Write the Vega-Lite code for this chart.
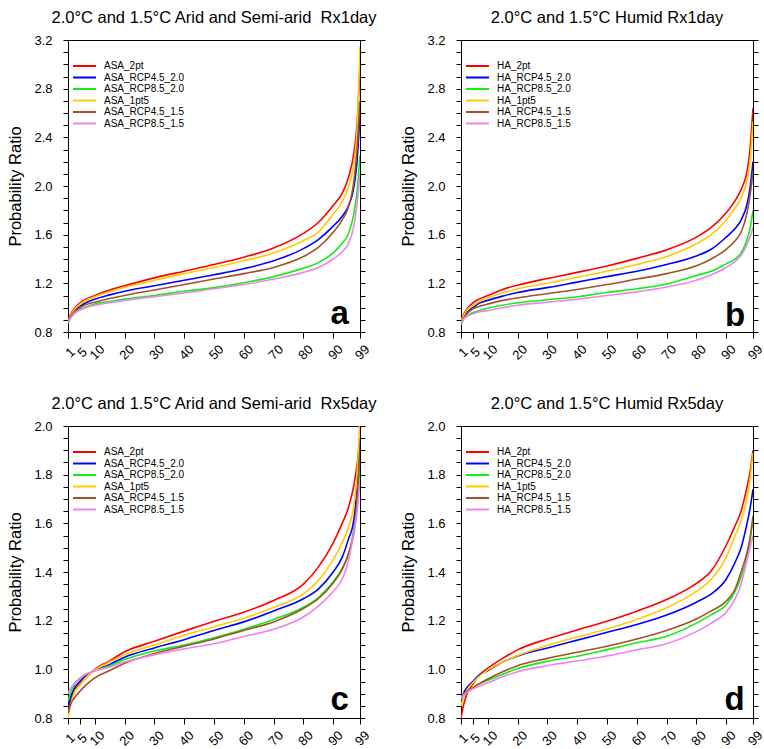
{
"$schema": "https://vega.github.io/schema/vega-lite/v6.json",
"background": "white",
"padding": {"left": 7, "top": 9, "right": 12, "bottom": 12},
"bounds": "flush",
"columns": 2,
"spacing": {"row": 94, "column": 101},
"resolve": {"scale": {"color": "independent"}, "legend": {"color": "independent"}},
"config": {
  "font": "Liberation Sans",
  "view": {"stroke": "black", "strokeWidth": 1},
  "axis": {"grid": false, "domainColor": "black", "tickColor": "black", "labelColor": "black", "titleColor": "black", "labelFont": "Liberation Sans", "titleFont": "Liberation Sans", "labelFontSize": 13, "titleFontSize": 16.5, "titleFontWeight": "normal", "tickWidth": 1, "domainWidth": 1},
  "title": {"font": "Liberation Sans", "fontSize": 16.5, "fontWeight": "normal", "color": "black", "frame": "group", "anchor": "middle", "offset": 8, "baseline": "alphabetic"}
},
"datasets": {
"a": [
{"s":"ASA_2pt","x":1,"y":0.90},{"s":"ASA_2pt","x":2,"y":0.95},{"s":"ASA_2pt","x":3,"y":0.99},{"s":"ASA_2pt","x":5,"y":1.04},{"s":"ASA_2pt","x":7,"y":1.07},{"s":"ASA_2pt","x":10,"y":1.10},{"s":"ASA_2pt","x":15,"y":1.145},{"s":"ASA_2pt","x":20,"y":1.18},{"s":"ASA_2pt","x":30,"y":1.245},{"s":"ASA_2pt","x":40,"y":1.30},{"s":"ASA_2pt","x":50,"y":1.355},{"s":"ASA_2pt","x":60,"y":1.415},{"s":"ASA_2pt","x":70,"y":1.49},{"s":"ASA_2pt","x":80,"y":1.61},{"s":"ASA_2pt","x":85,"y":1.70},{"s":"ASA_2pt","x":90,"y":1.84},{"s":"ASA_2pt","x":93,"y":1.94},{"s":"ASA_2pt","x":95,"y":2.06},{"s":"ASA_2pt","x":97,"y":2.28},{"s":"ASA_2pt","x":98,"y":2.5},{"s":"ASA_2pt","x":99,"y":3.0},
{"s":"ASA_RCP4.5_2.0","x":1,"y":0.88},{"s":"ASA_RCP4.5_2.0","x":2,"y":0.93},{"s":"ASA_RCP4.5_2.0","x":3,"y":0.97},{"s":"ASA_RCP4.5_2.0","x":5,"y":1.01},{"s":"ASA_RCP4.5_2.0","x":7,"y":1.04},{"s":"ASA_RCP4.5_2.0","x":10,"y":1.07},{"s":"ASA_RCP4.5_2.0","x":15,"y":1.105},{"s":"ASA_RCP4.5_2.0","x":20,"y":1.135},{"s":"ASA_RCP4.5_2.0","x":30,"y":1.18},{"s":"ASA_RCP4.5_2.0","x":40,"y":1.225},{"s":"ASA_RCP4.5_2.0","x":50,"y":1.27},{"s":"ASA_RCP4.5_2.0","x":60,"y":1.32},{"s":"ASA_RCP4.5_2.0","x":70,"y":1.385},{"s":"ASA_RCP4.5_2.0","x":80,"y":1.485},{"s":"ASA_RCP4.5_2.0","x":85,"y":1.56},{"s":"ASA_RCP4.5_2.0","x":90,"y":1.67},{"s":"ASA_RCP4.5_2.0","x":93,"y":1.75},{"s":"ASA_RCP4.5_2.0","x":95,"y":1.83},{"s":"ASA_RCP4.5_2.0","x":97,"y":2.0},{"s":"ASA_RCP4.5_2.0","x":98,"y":2.2},{"s":"ASA_RCP4.5_2.0","x":99,"y":2.6},
{"s":"ASA_RCP8.5_2.0","x":1,"y":0.87},{"s":"ASA_RCP8.5_2.0","x":2,"y":0.92},{"s":"ASA_RCP8.5_2.0","x":3,"y":0.95},{"s":"ASA_RCP8.5_2.0","x":5,"y":0.985},{"s":"ASA_RCP8.5_2.0","x":7,"y":1.005},{"s":"ASA_RCP8.5_2.0","x":10,"y":1.03},{"s":"ASA_RCP8.5_2.0","x":15,"y":1.05},{"s":"ASA_RCP8.5_2.0","x":20,"y":1.07},{"s":"ASA_RCP8.5_2.0","x":30,"y":1.10},{"s":"ASA_RCP8.5_2.0","x":40,"y":1.135},{"s":"ASA_RCP8.5_2.0","x":50,"y":1.165},{"s":"ASA_RCP8.5_2.0","x":60,"y":1.205},{"s":"ASA_RCP8.5_2.0","x":70,"y":1.255},{"s":"ASA_RCP8.5_2.0","x":80,"y":1.325},{"s":"ASA_RCP8.5_2.0","x":85,"y":1.37},{"s":"ASA_RCP8.5_2.0","x":90,"y":1.45},{"s":"ASA_RCP8.5_2.0","x":93,"y":1.53},{"s":"ASA_RCP8.5_2.0","x":95,"y":1.60},{"s":"ASA_RCP8.5_2.0","x":97,"y":1.78},{"s":"ASA_RCP8.5_2.0","x":98,"y":1.95},{"s":"ASA_RCP8.5_2.0","x":99,"y":2.25},
{"s":"ASA_1pt5","x":1,"y":0.89},{"s":"ASA_1pt5","x":2,"y":0.94},{"s":"ASA_1pt5","x":3,"y":0.98},{"s":"ASA_1pt5","x":5,"y":1.03},{"s":"ASA_1pt5","x":7,"y":1.06},{"s":"ASA_1pt5","x":10,"y":1.09},{"s":"ASA_1pt5","x":15,"y":1.13},{"s":"ASA_1pt5","x":20,"y":1.165},{"s":"ASA_1pt5","x":30,"y":1.225},{"s":"ASA_1pt5","x":40,"y":1.28},{"s":"ASA_1pt5","x":50,"y":1.33},{"s":"ASA_1pt5","x":60,"y":1.385},{"s":"ASA_1pt5","x":70,"y":1.45},{"s":"ASA_1pt5","x":80,"y":1.55},{"s":"ASA_1pt5","x":85,"y":1.62},{"s":"ASA_1pt5","x":90,"y":1.77},{"s":"ASA_1pt5","x":93,"y":1.87},{"s":"ASA_1pt5","x":95,"y":1.98},{"s":"ASA_1pt5","x":97,"y":2.2},{"s":"ASA_1pt5","x":98,"y":2.45},{"s":"ASA_1pt5","x":99,"y":3.15},
{"s":"ASA_RCP4.5_1.5","x":1,"y":0.89},{"s":"ASA_RCP4.5_1.5","x":2,"y":0.93},{"s":"ASA_RCP4.5_1.5","x":3,"y":0.96},{"s":"ASA_RCP4.5_1.5","x":5,"y":1.0},{"s":"ASA_RCP4.5_1.5","x":7,"y":1.025},{"s":"ASA_RCP4.5_1.5","x":10,"y":1.045},{"s":"ASA_RCP4.5_1.5","x":15,"y":1.075},{"s":"ASA_RCP4.5_1.5","x":20,"y":1.10},{"s":"ASA_RCP4.5_1.5","x":30,"y":1.145},{"s":"ASA_RCP4.5_1.5","x":40,"y":1.19},{"s":"ASA_RCP4.5_1.5","x":50,"y":1.235},{"s":"ASA_RCP4.5_1.5","x":60,"y":1.28},{"s":"ASA_RCP4.5_1.5","x":70,"y":1.33},{"s":"ASA_RCP4.5_1.5","x":80,"y":1.42},{"s":"ASA_RCP4.5_1.5","x":85,"y":1.495},{"s":"ASA_RCP4.5_1.5","x":90,"y":1.62},{"s":"ASA_RCP4.5_1.5","x":93,"y":1.72},{"s":"ASA_RCP4.5_1.5","x":95,"y":1.82},{"s":"ASA_RCP4.5_1.5","x":97,"y":2.05},{"s":"ASA_RCP4.5_1.5","x":98,"y":2.3},{"s":"ASA_RCP4.5_1.5","x":99,"y":2.7},
{"s":"ASA_RCP8.5_1.5","x":1,"y":0.88},{"s":"ASA_RCP8.5_1.5","x":2,"y":0.92},{"s":"ASA_RCP8.5_1.5","x":3,"y":0.95},{"s":"ASA_RCP8.5_1.5","x":5,"y":0.98},{"s":"ASA_RCP8.5_1.5","x":7,"y":1.0},{"s":"ASA_RCP8.5_1.5","x":10,"y":1.02},{"s":"ASA_RCP8.5_1.5","x":15,"y":1.04},{"s":"ASA_RCP8.5_1.5","x":20,"y":1.06},{"s":"ASA_RCP8.5_1.5","x":30,"y":1.09},{"s":"ASA_RCP8.5_1.5","x":40,"y":1.12},{"s":"ASA_RCP8.5_1.5","x":50,"y":1.155},{"s":"ASA_RCP8.5_1.5","x":60,"y":1.19},{"s":"ASA_RCP8.5_1.5","x":70,"y":1.235},{"s":"ASA_RCP8.5_1.5","x":80,"y":1.29},{"s":"ASA_RCP8.5_1.5","x":85,"y":1.33},{"s":"ASA_RCP8.5_1.5","x":90,"y":1.40},{"s":"ASA_RCP8.5_1.5","x":93,"y":1.46},{"s":"ASA_RCP8.5_1.5","x":95,"y":1.52},{"s":"ASA_RCP8.5_1.5","x":97,"y":1.68},{"s":"ASA_RCP8.5_1.5","x":98,"y":1.85},{"s":"ASA_RCP8.5_1.5","x":99,"y":2.1}
],
"b": [
{"s":"HA_2pt","x":1,"y":0.90},{"s":"HA_2pt","x":2,"y":0.95},{"s":"HA_2pt","x":3,"y":0.99},{"s":"HA_2pt","x":5,"y":1.04},{"s":"HA_2pt","x":7,"y":1.07},{"s":"HA_2pt","x":10,"y":1.10},{"s":"HA_2pt","x":15,"y":1.15},{"s":"HA_2pt","x":20,"y":1.185},{"s":"HA_2pt","x":30,"y":1.24},{"s":"HA_2pt","x":40,"y":1.29},{"s":"HA_2pt","x":50,"y":1.343},{"s":"HA_2pt","x":60,"y":1.405},{"s":"HA_2pt","x":70,"y":1.475},{"s":"HA_2pt","x":80,"y":1.58},{"s":"HA_2pt","x":85,"y":1.66},{"s":"HA_2pt","x":90,"y":1.78},{"s":"HA_2pt","x":93,"y":1.88},{"s":"HA_2pt","x":95,"y":1.97},{"s":"HA_2pt","x":97,"y":2.12},{"s":"HA_2pt","x":98,"y":2.3},{"s":"HA_2pt","x":99,"y":2.64},
{"s":"HA_RCP4.5_2.0","x":1,"y":0.87},{"s":"HA_RCP4.5_2.0","x":2,"y":0.92},{"s":"HA_RCP4.5_2.0","x":3,"y":0.96},{"s":"HA_RCP4.5_2.0","x":5,"y":1.0},{"s":"HA_RCP4.5_2.0","x":7,"y":1.035},{"s":"HA_RCP4.5_2.0","x":10,"y":1.06},{"s":"HA_RCP4.5_2.0","x":15,"y":1.095},{"s":"HA_RCP4.5_2.0","x":20,"y":1.125},{"s":"HA_RCP4.5_2.0","x":30,"y":1.165},{"s":"HA_RCP4.5_2.0","x":40,"y":1.21},{"s":"HA_RCP4.5_2.0","x":50,"y":1.255},{"s":"HA_RCP4.5_2.0","x":60,"y":1.30},{"s":"HA_RCP4.5_2.0","x":70,"y":1.355},{"s":"HA_RCP4.5_2.0","x":80,"y":1.425},{"s":"HA_RCP4.5_2.0","x":85,"y":1.48},{"s":"HA_RCP4.5_2.0","x":90,"y":1.58},{"s":"HA_RCP4.5_2.0","x":93,"y":1.65},{"s":"HA_RCP4.5_2.0","x":95,"y":1.72},{"s":"HA_RCP4.5_2.0","x":97,"y":1.85},{"s":"HA_RCP4.5_2.0","x":98,"y":1.98},{"s":"HA_RCP4.5_2.0","x":99,"y":2.2},
{"s":"HA_RCP8.5_2.0","x":1,"y":0.86},{"s":"HA_RCP8.5_2.0","x":2,"y":0.91},{"s":"HA_RCP8.5_2.0","x":3,"y":0.93},{"s":"HA_RCP8.5_2.0","x":5,"y":0.96},{"s":"HA_RCP8.5_2.0","x":7,"y":0.975},{"s":"HA_RCP8.5_2.0","x":10,"y":0.995},{"s":"HA_RCP8.5_2.0","x":15,"y":1.02},{"s":"HA_RCP8.5_2.0","x":20,"y":1.04},{"s":"HA_RCP8.5_2.0","x":30,"y":1.065},{"s":"HA_RCP8.5_2.0","x":40,"y":1.09},{"s":"HA_RCP8.5_2.0","x":50,"y":1.125},{"s":"HA_RCP8.5_2.0","x":60,"y":1.155},{"s":"HA_RCP8.5_2.0","x":70,"y":1.195},{"s":"HA_RCP8.5_2.0","x":80,"y":1.265},{"s":"HA_RCP8.5_2.0","x":85,"y":1.30},{"s":"HA_RCP8.5_2.0","x":90,"y":1.36},{"s":"HA_RCP8.5_2.0","x":93,"y":1.40},{"s":"HA_RCP8.5_2.0","x":95,"y":1.45},{"s":"HA_RCP8.5_2.0","x":97,"y":1.56},{"s":"HA_RCP8.5_2.0","x":98,"y":1.65},{"s":"HA_RCP8.5_2.0","x":99,"y":1.80},
{"s":"HA_1pt5","x":1,"y":0.89},{"s":"HA_1pt5","x":2,"y":0.94},{"s":"HA_1pt5","x":3,"y":0.98},{"s":"HA_1pt5","x":5,"y":1.02},{"s":"HA_1pt5","x":7,"y":1.05},{"s":"HA_1pt5","x":10,"y":1.08},{"s":"HA_1pt5","x":15,"y":1.12},{"s":"HA_1pt5","x":20,"y":1.155},{"s":"HA_1pt5","x":30,"y":1.20},{"s":"HA_1pt5","x":40,"y":1.25},{"s":"HA_1pt5","x":50,"y":1.30},{"s":"HA_1pt5","x":60,"y":1.355},{"s":"HA_1pt5","x":70,"y":1.42},{"s":"HA_1pt5","x":80,"y":1.525},{"s":"HA_1pt5","x":85,"y":1.60},{"s":"HA_1pt5","x":90,"y":1.72},{"s":"HA_1pt5","x":93,"y":1.82},{"s":"HA_1pt5","x":95,"y":1.90},{"s":"HA_1pt5","x":97,"y":2.05},{"s":"HA_1pt5","x":98,"y":2.2},{"s":"HA_1pt5","x":99,"y":2.53},
{"s":"HA_RCP4.5_1.5","x":1,"y":0.88},{"s":"HA_RCP4.5_1.5","x":2,"y":0.92},{"s":"HA_RCP4.5_1.5","x":3,"y":0.95},{"s":"HA_RCP4.5_1.5","x":5,"y":0.99},{"s":"HA_RCP4.5_1.5","x":7,"y":1.01},{"s":"HA_RCP4.5_1.5","x":10,"y":1.03},{"s":"HA_RCP4.5_1.5","x":15,"y":1.06},{"s":"HA_RCP4.5_1.5","x":20,"y":1.08},{"s":"HA_RCP4.5_1.5","x":30,"y":1.115},{"s":"HA_RCP4.5_1.5","x":40,"y":1.15},{"s":"HA_RCP4.5_1.5","x":50,"y":1.19},{"s":"HA_RCP4.5_1.5","x":60,"y":1.235},{"s":"HA_RCP4.5_1.5","x":70,"y":1.28},{"s":"HA_RCP4.5_1.5","x":80,"y":1.345},{"s":"HA_RCP4.5_1.5","x":85,"y":1.40},{"s":"HA_RCP4.5_1.5","x":90,"y":1.48},{"s":"HA_RCP4.5_1.5","x":93,"y":1.55},{"s":"HA_RCP4.5_1.5","x":95,"y":1.62},{"s":"HA_RCP4.5_1.5","x":97,"y":1.78},{"s":"HA_RCP4.5_1.5","x":98,"y":1.92},{"s":"HA_RCP4.5_1.5","x":99,"y":2.12},
{"s":"HA_RCP8.5_1.5","x":1,"y":0.87},{"s":"HA_RCP8.5_1.5","x":2,"y":0.91},{"s":"HA_RCP8.5_1.5","x":3,"y":0.93},{"s":"HA_RCP8.5_1.5","x":5,"y":0.95},{"s":"HA_RCP8.5_1.5","x":7,"y":0.965},{"s":"HA_RCP8.5_1.5","x":10,"y":0.975},{"s":"HA_RCP8.5_1.5","x":15,"y":1.0},{"s":"HA_RCP8.5_1.5","x":20,"y":1.02},{"s":"HA_RCP8.5_1.5","x":30,"y":1.045},{"s":"HA_RCP8.5_1.5","x":40,"y":1.07},{"s":"HA_RCP8.5_1.5","x":50,"y":1.10},{"s":"HA_RCP8.5_1.5","x":60,"y":1.13},{"s":"HA_RCP8.5_1.5","x":70,"y":1.17},{"s":"HA_RCP8.5_1.5","x":80,"y":1.225},{"s":"HA_RCP8.5_1.5","x":85,"y":1.27},{"s":"HA_RCP8.5_1.5","x":90,"y":1.33},{"s":"HA_RCP8.5_1.5","x":93,"y":1.38},{"s":"HA_RCP8.5_1.5","x":95,"y":1.43},{"s":"HA_RCP8.5_1.5","x":97,"y":1.52},{"s":"HA_RCP8.5_1.5","x":98,"y":1.58},{"s":"HA_RCP8.5_1.5","x":99,"y":1.66}
],
"c": [
{"s":"ASA_2pt","x":1,"y":0.83},{"s":"ASA_2pt","x":2,"y":0.88},{"s":"ASA_2pt","x":3,"y":0.91},{"s":"ASA_2pt","x":5,"y":0.94},{"s":"ASA_2pt","x":7,"y":0.965},{"s":"ASA_2pt","x":10,"y":1.0},{"s":"ASA_2pt","x":15,"y":1.035},{"s":"ASA_2pt","x":20,"y":1.072},{"s":"ASA_2pt","x":30,"y":1.115},{"s":"ASA_2pt","x":40,"y":1.157},{"s":"ASA_2pt","x":50,"y":1.198},{"s":"ASA_2pt","x":60,"y":1.235},{"s":"ASA_2pt","x":70,"y":1.283},{"s":"ASA_2pt","x":80,"y":1.35},{"s":"ASA_2pt","x":85,"y":1.42},{"s":"ASA_2pt","x":90,"y":1.52},{"s":"ASA_2pt","x":93,"y":1.60},{"s":"ASA_2pt","x":95,"y":1.66},{"s":"ASA_2pt","x":97,"y":1.76},{"s":"ASA_2pt","x":98,"y":1.84},{"s":"ASA_2pt","x":99,"y":1.95},
{"s":"ASA_RCP4.5_2.0","x":1,"y":0.84},{"s":"ASA_RCP4.5_2.0","x":2,"y":0.89},{"s":"ASA_RCP4.5_2.0","x":3,"y":0.92},{"s":"ASA_RCP4.5_2.0","x":5,"y":0.95},{"s":"ASA_RCP4.5_2.0","x":7,"y":0.975},{"s":"ASA_RCP4.5_2.0","x":10,"y":0.995},{"s":"ASA_RCP4.5_2.0","x":15,"y":1.02},{"s":"ASA_RCP4.5_2.0","x":20,"y":1.05},{"s":"ASA_RCP4.5_2.0","x":30,"y":1.088},{"s":"ASA_RCP4.5_2.0","x":40,"y":1.122},{"s":"ASA_RCP4.5_2.0","x":50,"y":1.16},{"s":"ASA_RCP4.5_2.0","x":60,"y":1.195},{"s":"ASA_RCP4.5_2.0","x":70,"y":1.24},{"s":"ASA_RCP4.5_2.0","x":80,"y":1.29},{"s":"ASA_RCP4.5_2.0","x":85,"y":1.33},{"s":"ASA_RCP4.5_2.0","x":90,"y":1.40},{"s":"ASA_RCP4.5_2.0","x":93,"y":1.46},{"s":"ASA_RCP4.5_2.0","x":95,"y":1.53},{"s":"ASA_RCP4.5_2.0","x":97,"y":1.62},{"s":"ASA_RCP4.5_2.0","x":98,"y":1.74},{"s":"ASA_RCP4.5_2.0","x":99,"y":1.9},
{"s":"ASA_RCP8.5_2.0","x":1,"y":0.87},{"s":"ASA_RCP8.5_2.0","x":2,"y":0.91},{"s":"ASA_RCP8.5_2.0","x":3,"y":0.935},{"s":"ASA_RCP8.5_2.0","x":5,"y":0.96},{"s":"ASA_RCP8.5_2.0","x":7,"y":0.98},{"s":"ASA_RCP8.5_2.0","x":10,"y":0.995},{"s":"ASA_RCP8.5_2.0","x":15,"y":1.015},{"s":"ASA_RCP8.5_2.0","x":20,"y":1.04},{"s":"ASA_RCP8.5_2.0","x":30,"y":1.075},{"s":"ASA_RCP8.5_2.0","x":40,"y":1.10},{"s":"ASA_RCP8.5_2.0","x":50,"y":1.13},{"s":"ASA_RCP8.5_2.0","x":60,"y":1.165},{"s":"ASA_RCP8.5_2.0","x":70,"y":1.205},{"s":"ASA_RCP8.5_2.0","x":80,"y":1.255},{"s":"ASA_RCP8.5_2.0","x":85,"y":1.295},{"s":"ASA_RCP8.5_2.0","x":90,"y":1.36},{"s":"ASA_RCP8.5_2.0","x":93,"y":1.415},{"s":"ASA_RCP8.5_2.0","x":95,"y":1.47},{"s":"ASA_RCP8.5_2.0","x":97,"y":1.56},{"s":"ASA_RCP8.5_2.0","x":98,"y":1.66},{"s":"ASA_RCP8.5_2.0","x":99,"y":1.85},
{"s":"ASA_1pt5","x":1,"y":0.80},{"s":"ASA_1pt5","x":2,"y":0.86},{"s":"ASA_1pt5","x":3,"y":0.90},{"s":"ASA_1pt5","x":5,"y":0.935},{"s":"ASA_1pt5","x":7,"y":0.965},{"s":"ASA_1pt5","x":10,"y":0.998},{"s":"ASA_1pt5","x":15,"y":1.03},{"s":"ASA_1pt5","x":20,"y":1.06},{"s":"ASA_1pt5","x":30,"y":1.10},{"s":"ASA_1pt5","x":40,"y":1.14},{"s":"ASA_1pt5","x":50,"y":1.175},{"s":"ASA_1pt5","x":60,"y":1.21},{"s":"ASA_1pt5","x":70,"y":1.255},{"s":"ASA_1pt5","x":80,"y":1.31},{"s":"ASA_1pt5","x":85,"y":1.365},{"s":"ASA_1pt5","x":90,"y":1.45},{"s":"ASA_1pt5","x":93,"y":1.52},{"s":"ASA_1pt5","x":95,"y":1.58},{"s":"ASA_1pt5","x":97,"y":1.68},{"s":"ASA_1pt5","x":98,"y":1.8},{"s":"ASA_1pt5","x":99,"y":2.05},
{"s":"ASA_RCP4.5_1.5","x":1,"y":0.82},{"s":"ASA_RCP4.5_1.5","x":2,"y":0.86},{"s":"ASA_RCP4.5_1.5","x":3,"y":0.88},{"s":"ASA_RCP4.5_1.5","x":5,"y":0.91},{"s":"ASA_RCP4.5_1.5","x":7,"y":0.935},{"s":"ASA_RCP4.5_1.5","x":10,"y":0.965},{"s":"ASA_RCP4.5_1.5","x":15,"y":0.995},{"s":"ASA_RCP4.5_1.5","x":20,"y":1.025},{"s":"ASA_RCP4.5_1.5","x":30,"y":1.065},{"s":"ASA_RCP4.5_1.5","x":40,"y":1.095},{"s":"ASA_RCP4.5_1.5","x":50,"y":1.125},{"s":"ASA_RCP4.5_1.5","x":60,"y":1.16},{"s":"ASA_RCP4.5_1.5","x":70,"y":1.195},{"s":"ASA_RCP4.5_1.5","x":80,"y":1.25},{"s":"ASA_RCP4.5_1.5","x":85,"y":1.29},{"s":"ASA_RCP4.5_1.5","x":90,"y":1.355},{"s":"ASA_RCP4.5_1.5","x":93,"y":1.41},{"s":"ASA_RCP4.5_1.5","x":95,"y":1.47},{"s":"ASA_RCP4.5_1.5","x":97,"y":1.58},{"s":"ASA_RCP4.5_1.5","x":98,"y":1.7},{"s":"ASA_RCP4.5_1.5","x":99,"y":1.92},
{"s":"ASA_RCP8.5_1.5","x":1,"y":0.90},{"s":"ASA_RCP8.5_1.5","x":2,"y":0.925},{"s":"ASA_RCP8.5_1.5","x":3,"y":0.94},{"s":"ASA_RCP8.5_1.5","x":5,"y":0.965},{"s":"ASA_RCP8.5_1.5","x":7,"y":0.98},{"s":"ASA_RCP8.5_1.5","x":10,"y":0.993},{"s":"ASA_RCP8.5_1.5","x":15,"y":1.01},{"s":"ASA_RCP8.5_1.5","x":20,"y":1.03},{"s":"ASA_RCP8.5_1.5","x":30,"y":1.06},{"s":"ASA_RCP8.5_1.5","x":40,"y":1.084},{"s":"ASA_RCP8.5_1.5","x":50,"y":1.105},{"s":"ASA_RCP8.5_1.5","x":60,"y":1.135},{"s":"ASA_RCP8.5_1.5","x":70,"y":1.165},{"s":"ASA_RCP8.5_1.5","x":80,"y":1.215},{"s":"ASA_RCP8.5_1.5","x":85,"y":1.26},{"s":"ASA_RCP8.5_1.5","x":90,"y":1.32},{"s":"ASA_RCP8.5_1.5","x":93,"y":1.37},{"s":"ASA_RCP8.5_1.5","x":95,"y":1.44},{"s":"ASA_RCP8.5_1.5","x":97,"y":1.57},{"s":"ASA_RCP8.5_1.5","x":98,"y":1.65},{"s":"ASA_RCP8.5_1.5","x":99,"y":1.78}
],
"d": [
{"s":"HA_2pt","x":1,"y":0.80},{"s":"HA_2pt","x":2,"y":0.86},{"s":"HA_2pt","x":3,"y":0.90},{"s":"HA_2pt","x":5,"y":0.94},{"s":"HA_2pt","x":7,"y":0.975},{"s":"HA_2pt","x":10,"y":1.005},{"s":"HA_2pt","x":15,"y":1.045},{"s":"HA_2pt","x":20,"y":1.08},{"s":"HA_2pt","x":30,"y":1.125},{"s":"HA_2pt","x":40,"y":1.162},{"s":"HA_2pt","x":50,"y":1.198},{"s":"HA_2pt","x":60,"y":1.239},{"s":"HA_2pt","x":70,"y":1.287},{"s":"HA_2pt","x":80,"y":1.353},{"s":"HA_2pt","x":85,"y":1.405},{"s":"HA_2pt","x":90,"y":1.51},{"s":"HA_2pt","x":93,"y":1.59},{"s":"HA_2pt","x":95,"y":1.65},{"s":"HA_2pt","x":97,"y":1.75},{"s":"HA_2pt","x":98,"y":1.81},{"s":"HA_2pt","x":99,"y":1.90},
{"s":"HA_RCP4.5_2.0","x":1,"y":0.87},{"s":"HA_RCP4.5_2.0","x":2,"y":0.905},{"s":"HA_RCP4.5_2.0","x":3,"y":0.925},{"s":"HA_RCP4.5_2.0","x":5,"y":0.95},{"s":"HA_RCP4.5_2.0","x":7,"y":0.975},{"s":"HA_RCP4.5_2.0","x":10,"y":0.995},{"s":"HA_RCP4.5_2.0","x":15,"y":1.03},{"s":"HA_RCP4.5_2.0","x":20,"y":1.055},{"s":"HA_RCP4.5_2.0","x":30,"y":1.088},{"s":"HA_RCP4.5_2.0","x":40,"y":1.12},{"s":"HA_RCP4.5_2.0","x":50,"y":1.152},{"s":"HA_RCP4.5_2.0","x":60,"y":1.184},{"s":"HA_RCP4.5_2.0","x":70,"y":1.223},{"s":"HA_RCP4.5_2.0","x":80,"y":1.276},{"s":"HA_RCP4.5_2.0","x":85,"y":1.31},{"s":"HA_RCP4.5_2.0","x":90,"y":1.37},{"s":"HA_RCP4.5_2.0","x":93,"y":1.44},{"s":"HA_RCP4.5_2.0","x":95,"y":1.50},{"s":"HA_RCP4.5_2.0","x":97,"y":1.60},{"s":"HA_RCP4.5_2.0","x":98,"y":1.66},{"s":"HA_RCP4.5_2.0","x":99,"y":1.74},
{"s":"HA_RCP8.5_2.0","x":1,"y":0.885},{"s":"HA_RCP8.5_2.0","x":2,"y":0.9},{"s":"HA_RCP8.5_2.0","x":3,"y":0.91},{"s":"HA_RCP8.5_2.0","x":5,"y":0.925},{"s":"HA_RCP8.5_2.0","x":7,"y":0.94},{"s":"HA_RCP8.5_2.0","x":10,"y":0.955},{"s":"HA_RCP8.5_2.0","x":15,"y":0.98},{"s":"HA_RCP8.5_2.0","x":20,"y":1.003},{"s":"HA_RCP8.5_2.0","x":30,"y":1.033},{"s":"HA_RCP8.5_2.0","x":40,"y":1.054},{"s":"HA_RCP8.5_2.0","x":50,"y":1.081},{"s":"HA_RCP8.5_2.0","x":60,"y":1.109},{"s":"HA_RCP8.5_2.0","x":70,"y":1.136},{"s":"HA_RCP8.5_2.0","x":80,"y":1.19},{"s":"HA_RCP8.5_2.0","x":85,"y":1.225},{"s":"HA_RCP8.5_2.0","x":90,"y":1.265},{"s":"HA_RCP8.5_2.0","x":93,"y":1.32},{"s":"HA_RCP8.5_2.0","x":95,"y":1.38},{"s":"HA_RCP8.5_2.0","x":97,"y":1.46},{"s":"HA_RCP8.5_2.0","x":98,"y":1.53},{"s":"HA_RCP8.5_2.0","x":99,"y":1.62},
{"s":"HA_1pt5","x":1,"y":0.85},{"s":"HA_1pt5","x":2,"y":0.89},{"s":"HA_1pt5","x":3,"y":0.915},{"s":"HA_1pt5","x":5,"y":0.945},{"s":"HA_1pt5","x":7,"y":0.97},{"s":"HA_1pt5","x":10,"y":0.998},{"s":"HA_1pt5","x":15,"y":1.03},{"s":"HA_1pt5","x":20,"y":1.057},{"s":"HA_1pt5","x":30,"y":1.098},{"s":"HA_1pt5","x":40,"y":1.133},{"s":"HA_1pt5","x":50,"y":1.166},{"s":"HA_1pt5","x":60,"y":1.205},{"s":"HA_1pt5","x":70,"y":1.253},{"s":"HA_1pt5","x":80,"y":1.32},{"s":"HA_1pt5","x":85,"y":1.37},{"s":"HA_1pt5","x":90,"y":1.46},{"s":"HA_1pt5","x":93,"y":1.55},{"s":"HA_1pt5","x":95,"y":1.61},{"s":"HA_1pt5","x":97,"y":1.71},{"s":"HA_1pt5","x":98,"y":1.78},{"s":"HA_1pt5","x":99,"y":1.89},
{"s":"HA_RCP4.5_1.5","x":1,"y":0.88},{"s":"HA_RCP4.5_1.5","x":2,"y":0.9},{"s":"HA_RCP4.5_1.5","x":3,"y":0.91},{"s":"HA_RCP4.5_1.5","x":5,"y":0.925},{"s":"HA_RCP4.5_1.5","x":7,"y":0.94},{"s":"HA_RCP4.5_1.5","x":10,"y":0.96},{"s":"HA_RCP4.5_1.5","x":15,"y":0.99},{"s":"HA_RCP4.5_1.5","x":20,"y":1.015},{"s":"HA_RCP4.5_1.5","x":30,"y":1.045},{"s":"HA_RCP4.5_1.5","x":40,"y":1.07},{"s":"HA_RCP4.5_1.5","x":50,"y":1.095},{"s":"HA_RCP4.5_1.5","x":60,"y":1.125},{"s":"HA_RCP4.5_1.5","x":70,"y":1.16},{"s":"HA_RCP4.5_1.5","x":80,"y":1.207},{"s":"HA_RCP4.5_1.5","x":85,"y":1.24},{"s":"HA_RCP4.5_1.5","x":90,"y":1.28},{"s":"HA_RCP4.5_1.5","x":93,"y":1.33},{"s":"HA_RCP4.5_1.5","x":95,"y":1.40},{"s":"HA_RCP4.5_1.5","x":97,"y":1.48},{"s":"HA_RCP4.5_1.5","x":98,"y":1.54},{"s":"HA_RCP4.5_1.5","x":99,"y":1.63},
{"s":"HA_RCP8.5_1.5","x":1,"y":0.88},{"s":"HA_RCP8.5_1.5","x":2,"y":0.895},{"s":"HA_RCP8.5_1.5","x":3,"y":0.905},{"s":"HA_RCP8.5_1.5","x":5,"y":0.92},{"s":"HA_RCP8.5_1.5","x":7,"y":0.93},{"s":"HA_RCP8.5_1.5","x":10,"y":0.945},{"s":"HA_RCP8.5_1.5","x":15,"y":0.97},{"s":"HA_RCP8.5_1.5","x":20,"y":0.99},{"s":"HA_RCP8.5_1.5","x":30,"y":1.015},{"s":"HA_RCP8.5_1.5","x":40,"y":1.035},{"s":"HA_RCP8.5_1.5","x":50,"y":1.055},{"s":"HA_RCP8.5_1.5","x":60,"y":1.08},{"s":"HA_RCP8.5_1.5","x":70,"y":1.105},{"s":"HA_RCP8.5_1.5","x":80,"y":1.155},{"s":"HA_RCP8.5_1.5","x":85,"y":1.19},{"s":"HA_RCP8.5_1.5","x":90,"y":1.235},{"s":"HA_RCP8.5_1.5","x":93,"y":1.29},{"s":"HA_RCP8.5_1.5","x":95,"y":1.35},{"s":"HA_RCP8.5_1.5","x":97,"y":1.45},{"s":"HA_RCP8.5_1.5","x":98,"y":1.50},{"s":"HA_RCP8.5_1.5","x":99,"y":1.55}
]
},
"concat": [
{
 "width": 292, "height": 292,
 "title": "2.0°C and 1.5°C Arid and Semi-arid\u00a0 Rx1day",
 "resolve": {"scale": {"y": "shared"}, "axis": {"y": "independent"}},
 "layer": [
  {"data": {"values": [{"t": "a"}]},
   "mark": {"type": "text", "fontSize": 33, "fontWeight": "bold", "align": "right", "baseline": "alphabetic", "color": "black"},
   "encoding": {
    "x": {"datum": 95.3, "type": "quantitative", "scale": {"domain": [1, 99], "nice": false, "zero": false},
      "axis": {"title": null, "orient": "bottom", "ticks": true, "values": [1,5,10,20,30,40,50,60,70,80,90,99], "labelAngle": -45, "labelAlign": "center", "labelBaseline": "middle", "tickSize": 6, "labelPadding": 14, "labelOffset": 2, "labelOverlap": false, "labelFlush": false}},
    "y": {"datum": 0.866, "type": "quantitative", "scale": {"domain": [0.8, 3.2], "nice": false, "zero": false},
      "axis": {"title": "Probability Ratio", "orient": "left", "ticks": true, "values": [0.8,0.9,1.0,1.1,1.2,1.3,1.4,1.5,1.6,1.7,1.8,1.9,2.0,2.1,2.2,2.3,2.4,2.5,2.6,2.7,2.8,2.9,3.0,3.1,3.2], "labelExpr": "round(datum.value*10) % 4 == 0 ? format(datum.value, '.1f') : ''", "tickSize": 5, "labelPadding": 11, "titlePadding": 10}},
    "text": {"field": "t", "type": "nominal"}
   }},
  {"data": {"name": "a"},
   "mark": {"type": "line", "interpolate": "monotone", "strokeWidth": 1.6, "clip": true},
   "encoding": {
    "x": {"field": "x", "type": "quantitative", "scale": {"domain": [1, 99], "nice": false, "zero": false},
      "axis": {"title": null, "orient": "bottom", "ticks": true, "values": [1,5,10,20,30,40,50,60,70,80,90,99], "labelAngle": -45, "labelAlign": "center", "labelBaseline": "middle", "tickSize": 6, "labelPadding": 14, "labelOffset": 2, "labelOverlap": false, "labelFlush": false}},
    "y": {"field": "y", "type": "quantitative", "scale": {"domain": [0.8, 3.2], "nice": false, "zero": false},
      "axis": {"title": null, "orient": "right", "labels": false, "values": [0.8,0.9,1.0,1.1,1.2,1.3,1.4,1.5,1.6,1.7,1.8,1.9,2.0,2.1,2.2,2.3,2.4,2.5,2.6,2.7,2.8,2.9,3.0,3.1,3.2], "tickSize": 5}},
    "color": {"field": "s", "type": "nominal", "sort": null,
      "scale": {"domain": ["ASA_2pt","ASA_RCP4.5_2.0","ASA_RCP8.5_2.0","ASA_1pt5","ASA_RCP4.5_1.5","ASA_RCP8.5_1.5"], "range": ["#FF0000","#0000FF","#11EE11","#FFCC00","#A0522D","#EE82EE"]},
      "legend": {"title": null, "orient": "none", "legendX": 10.5, "legendY": 20, "symbolType": "M-2.3,0H2.3", "symbolSize": 100, "symbolStrokeWidth": 2, "labelFontSize": 10, "labelOffset": 13.5, "rowPadding": 0.5, "labelFont": "Liberation Sans", "labelColor": "black"}}
   }}
 ]
},
{
 "width": 292, "height": 292,
 "title": "2.0°C and 1.5°C Humid Rx1day",
 "resolve": {"scale": {"y": "shared"}, "axis": {"y": "independent"}},
 "layer": [
  {"data": {"values": [{"t": "b"}]},
   "mark": {"type": "text", "fontSize": 33, "fontWeight": "bold", "align": "right", "baseline": "alphabetic", "color": "black"},
   "encoding": {
    "x": {"datum": 96.4, "type": "quantitative", "scale": {"domain": [1, 99], "nice": false, "zero": false},
      "axis": {"title": null, "orient": "bottom", "ticks": true, "values": [1,5,10,20,30,40,50,60,70,80,90,99], "labelAngle": -45, "labelAlign": "center", "labelBaseline": "middle", "tickSize": 6, "labelPadding": 14, "labelOffset": 2, "labelOverlap": false, "labelFlush": false}},
    "y": {"datum": 0.85, "type": "quantitative", "scale": {"domain": [0.8, 3.2], "nice": false, "zero": false},
      "axis": {"title": "Probability Ratio", "orient": "left", "ticks": true, "values": [0.8,0.9,1.0,1.1,1.2,1.3,1.4,1.5,1.6,1.7,1.8,1.9,2.0,2.1,2.2,2.3,2.4,2.5,2.6,2.7,2.8,2.9,3.0,3.1,3.2], "labelExpr": "round(datum.value*10) % 4 == 0 ? format(datum.value, '.1f') : ''", "tickSize": 5, "labelPadding": 11, "titlePadding": 10}},
    "text": {"field": "t", "type": "nominal"}
   }},
  {"data": {"name": "b"},
   "mark": {"type": "line", "interpolate": "monotone", "strokeWidth": 1.6, "clip": true},
   "encoding": {
    "x": {"field": "x", "type": "quantitative", "scale": {"domain": [1, 99], "nice": false, "zero": false},
      "axis": {"title": null, "orient": "bottom", "ticks": true, "values": [1,5,10,20,30,40,50,60,70,80,90,99], "labelAngle": -45, "labelAlign": "center", "labelBaseline": "middle", "tickSize": 6, "labelPadding": 14, "labelOffset": 2, "labelOverlap": false, "labelFlush": false}},
    "y": {"field": "y", "type": "quantitative", "scale": {"domain": [0.8, 3.2], "nice": false, "zero": false},
      "axis": {"title": null, "orient": "right", "labels": false, "values": [0.8,0.9,1.0,1.1,1.2,1.3,1.4,1.5,1.6,1.7,1.8,1.9,2.0,2.1,2.2,2.3,2.4,2.5,2.6,2.7,2.8,2.9,3.0,3.1,3.2], "tickSize": 5}},
    "color": {"field": "s", "type": "nominal", "sort": null,
      "scale": {"domain": ["HA_2pt","HA_RCP4.5_2.0","HA_RCP8.5_2.0","HA_1pt5","HA_RCP4.5_1.5","HA_RCP8.5_1.5"], "range": ["#FF0000","#0000FF","#11EE11","#FFCC00","#A0522D","#EE82EE"]},
      "legend": {"title": null, "orient": "none", "legendX": 10.5, "legendY": 20, "symbolType": "M-2.3,0H2.3", "symbolSize": 100, "symbolStrokeWidth": 2, "labelFontSize": 10, "labelOffset": 13.5, "rowPadding": 0.5, "labelFont": "Liberation Sans", "labelColor": "black"}}
   }}
 ]
},
{
 "width": 292, "height": 292,
 "title": "2.0°C and 1.5°C Arid and Semi-arid\u00a0 Rx5day",
 "resolve": {"scale": {"y": "shared"}, "axis": {"y": "independent"}},
 "layer": [
  {"data": {"values": [{"t": "c"}]},
   "mark": {"type": "text", "fontSize": 33, "fontWeight": "bold", "align": "right", "baseline": "alphabetic", "color": "black"},
   "encoding": {
    "x": {"datum": 95.3, "type": "quantitative", "scale": {"domain": [1, 99], "nice": false, "zero": false},
      "axis": {"title": null, "orient": "bottom", "ticks": true, "values": [1,5,10,20,30,40,50,60,70,80,90,99], "labelAngle": -45, "labelAlign": "center", "labelBaseline": "middle", "tickSize": 6, "labelPadding": 14, "labelOffset": 2, "labelOverlap": false, "labelFlush": false}},
    "y": {"datum": 0.834, "type": "quantitative", "scale": {"domain": [0.8, 2.0], "nice": false, "zero": false},
      "axis": {"title": "Probability Ratio", "orient": "left", "ticks": true, "values": [0.8,0.85,0.9,0.95,1.0,1.05,1.1,1.15,1.2,1.25,1.3,1.35,1.4,1.45,1.5,1.55,1.6,1.65,1.7,1.75,1.8,1.85,1.9,1.95,2.0], "labelExpr": "round(datum.value*20) % 4 == 0 ? format(datum.value, '.1f') : ''", "tickSize": 5, "labelPadding": 11, "titlePadding": 10}},
    "text": {"field": "t", "type": "nominal"}
   }},
  {"data": {"name": "c"},
   "mark": {"type": "line", "interpolate": "monotone", "strokeWidth": 1.6, "clip": true},
   "encoding": {
    "x": {"field": "x", "type": "quantitative", "scale": {"domain": [1, 99], "nice": false, "zero": false},
      "axis": {"title": null, "orient": "bottom", "ticks": true, "values": [1,5,10,20,30,40,50,60,70,80,90,99], "labelAngle": -45, "labelAlign": "center", "labelBaseline": "middle", "tickSize": 6, "labelPadding": 14, "labelOffset": 2, "labelOverlap": false, "labelFlush": false}},
    "y": {"field": "y", "type": "quantitative", "scale": {"domain": [0.8, 2.0], "nice": false, "zero": false},
      "axis": {"title": null, "orient": "right", "labels": false, "values": [0.8,0.85,0.9,0.95,1.0,1.05,1.1,1.15,1.2,1.25,1.3,1.35,1.4,1.45,1.5,1.55,1.6,1.65,1.7,1.75,1.8,1.85,1.9,1.95,2.0], "tickSize": 5}},
    "color": {"field": "s", "type": "nominal", "sort": null,
      "scale": {"domain": ["ASA_2pt","ASA_RCP4.5_2.0","ASA_RCP8.5_2.0","ASA_1pt5","ASA_RCP4.5_1.5","ASA_RCP8.5_1.5"], "range": ["#FF0000","#0000FF","#11EE11","#FFCC00","#A0522D","#EE82EE"]},
      "legend": {"title": null, "orient": "none", "legendX": 10.5, "legendY": 20, "symbolType": "M-2.3,0H2.3", "symbolSize": 100, "symbolStrokeWidth": 2, "labelFontSize": 10, "labelOffset": 13.5, "rowPadding": 0.5, "labelFont": "Liberation Sans", "labelColor": "black"}}
   }}
 ]
},
{
 "width": 292, "height": 292,
 "title": "2.0°C and 1.5°C Humid Rx5day",
 "resolve": {"scale": {"y": "shared"}, "axis": {"y": "independent"}},
 "layer": [
  {"data": {"values": [{"t": "d"}]},
   "mark": {"type": "text", "fontSize": 33, "fontWeight": "bold", "align": "right", "baseline": "alphabetic", "color": "black"},
   "encoding": {
    "x": {"datum": 96.2, "type": "quantitative", "scale": {"domain": [1, 99], "nice": false, "zero": false},
      "axis": {"title": null, "orient": "bottom", "ticks": true, "values": [1,5,10,20,30,40,50,60,70,80,90,99], "labelAngle": -45, "labelAlign": "center", "labelBaseline": "middle", "tickSize": 6, "labelPadding": 14, "labelOffset": 2, "labelOverlap": false, "labelFlush": false}},
    "y": {"datum": 0.834, "type": "quantitative", "scale": {"domain": [0.8, 2.0], "nice": false, "zero": false},
      "axis": {"title": "Probability Ratio", "orient": "left", "ticks": true, "values": [0.8,0.85,0.9,0.95,1.0,1.05,1.1,1.15,1.2,1.25,1.3,1.35,1.4,1.45,1.5,1.55,1.6,1.65,1.7,1.75,1.8,1.85,1.9,1.95,2.0], "labelExpr": "round(datum.value*20) % 4 == 0 ? format(datum.value, '.1f') : ''", "tickSize": 5, "labelPadding": 11, "titlePadding": 10}},
    "text": {"field": "t", "type": "nominal"}
   }},
  {"data": {"name": "d"},
   "mark": {"type": "line", "interpolate": "monotone", "strokeWidth": 1.6, "clip": true},
   "encoding": {
    "x": {"field": "x", "type": "quantitative", "scale": {"domain": [1, 99], "nice": false, "zero": false},
      "axis": {"title": null, "orient": "bottom", "ticks": true, "values": [1,5,10,20,30,40,50,60,70,80,90,99], "labelAngle": -45, "labelAlign": "center", "labelBaseline": "middle", "tickSize": 6, "labelPadding": 14, "labelOffset": 2, "labelOverlap": false, "labelFlush": false}},
    "y": {"field": "y", "type": "quantitative", "scale": {"domain": [0.8, 2.0], "nice": false, "zero": false},
      "axis": {"title": null, "orient": "right", "labels": false, "values": [0.8,0.85,0.9,0.95,1.0,1.05,1.1,1.15,1.2,1.25,1.3,1.35,1.4,1.45,1.5,1.55,1.6,1.65,1.7,1.75,1.8,1.85,1.9,1.95,2.0], "tickSize": 5}},
    "color": {"field": "s", "type": "nominal", "sort": null,
      "scale": {"domain": ["HA_2pt","HA_RCP4.5_2.0","HA_RCP8.5_2.0","HA_1pt5","HA_RCP4.5_1.5","HA_RCP8.5_1.5"], "range": ["#FF0000","#0000FF","#11EE11","#FFCC00","#A0522D","#EE82EE"]},
      "legend": {"title": null, "orient": "none", "legendX": 10.5, "legendY": 20, "symbolType": "M-2.3,0H2.3", "symbolSize": 100, "symbolStrokeWidth": 2, "labelFontSize": 10, "labelOffset": 13.5, "rowPadding": 0.5, "labelFont": "Liberation Sans", "labelColor": "black"}}
   }}
 ]
}
]
}
